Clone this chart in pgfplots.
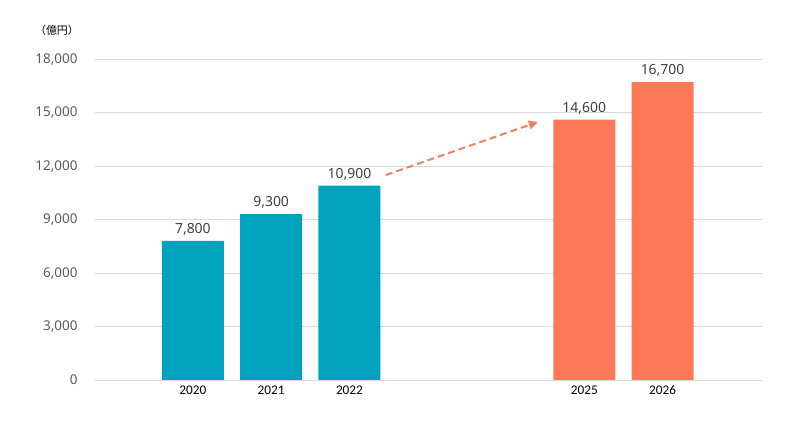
\documentclass[border=0pt]{standalone}
\usepackage{pgfplots}
\pgfplotsset{compat=1.18}
\usepackage{fontspec}
\setmainfont{Noto Sans}
\newfontfamily\cjk{Noto Sans CJK JP}
\newfontfamily\calib{Carlito}
\usetikzlibrary{arrows.meta}
\definecolor{teal1}{RGB}{0,162,189}
\definecolor{coral1}{RGB}{255,121,88}
\definecolor{arrowc}{RGB}{240,128,96}
\definecolor{gridc}{RGB}{217,217,217}
\definecolor{tickc}{RGB}{89,89,89}
\definecolor{valc}{RGB}{64,64,64}
\begin{document}
\begin{tikzpicture}[x=1bp,y=1bp]
\useasboundingbox (-95bp,-43bp) rectangle (705bp,380bp);
\begin{axis}[
    at={(0,0)}, anchor=south west,
    scale only axis,
    width=667bp, height=321bp,
    ybar, bar width=62bp, bar shift=0pt,
    xmin=-1.25, xmax=7.27,
    ymin=0, ymax=18000,
    ytick={0,3000,...,18000},
    scaled y ticks=false,
    xtick={0,1,2,5,6},
    xticklabels={2020,2021,2022,2025,2026},
    /pgf/number format/.cd, 1000 sep={,}, assume math mode=true, /pgfplots/.cd,
    axis line style={draw=none},
    major tick length=0pt,
    ymajorgrids, grid style={gridc, line width=0.8bp},
    yticklabel style={font=\fontsize{13.5}{15}\selectfont, text=tickc, xshift=-14bp},
    xticklabel style={font=\calib\fontsize{13.3}{15}\selectfont, text=black,
        anchor=center, text height=7bp, text depth=0pt, yshift=-11bp},
    nodes near coords,
    every node near coord/.append style={font=\fontsize{14}{16}\selectfont, text=valc, yshift=2bp},
    clip=false,
]
\addplot[fill=teal1, draw=none] coordinates {(0,7800) (1,9300) (2,10900)};
\addplot[fill=coral1, draw=none] coordinates {(5,14600) (6,16700)};
\draw[gridc, line width=0.8bp] (axis cs:-1.25,0) -- (axis cs:7.27,0);
\draw[arrowc, line width=2bp, dash pattern=on 7bp off 4bp, -{Triangle[length=9bp,width=9bp]}]
    (axis cs:2.465,11495) -- (axis cs:4.406,14467);
\end{axis}
\node[font=\cjk\fontsize{11}{13}\selectfont, text=black] at (-38bp,350bp) {（億円）};
\end{tikzpicture}
\end{document}
